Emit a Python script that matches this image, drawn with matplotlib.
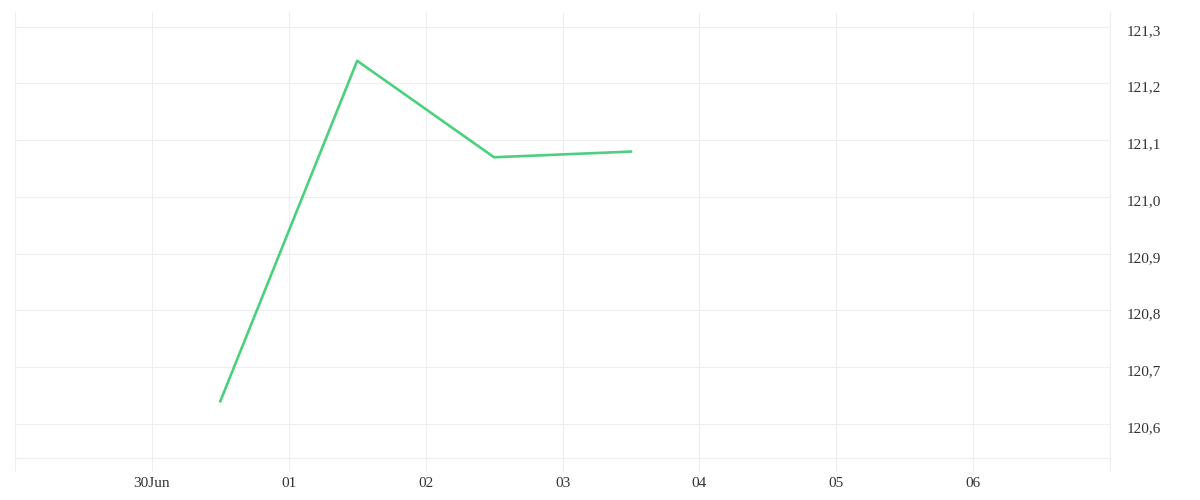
import pandas as pd
import matplotlib
matplotlib.use('Agg')
import matplotlib.pyplot as plt
import matplotlib.transforms as mtransforms

# Data (half-day points)
dates = pd.to_datetime(['2024-06-30 12:00', '2024-07-01 12:00', '2024-07-02 12:00', '2024-07-03 12:00'])
values = [120.64, 121.24, 121.07, 121.08]

tick_dates = pd.date_range('2024-06-29', '2024-07-07', freq='D')
tick_labels = ['', '30Jun', '01', '02', '03', '04', '05', '06', '']
y_ticks = [120.6, 120.7, 120.8, 120.9, 121.0, 121.1, 121.2, 121.3]

grid_col = '#eeeeee'
text_col = '#333333'

plt.rcParams['font.family'] = ['Liberation Serif', 'DejaVu Serif']

fig = plt.figure(figsize=(12, 5), dpi=100)
ax = fig.add_axes([15 / 1200, 1 - 458 / 500, 1095 / 1200, 446 / 500])

ax.plot(dates, values, color='#4cd07d', linewidth=1.9)

ax.set_xlim(tick_dates[0], tick_dates[-1])
ax.set_ylim(120.54, 121.326)

ax.set_xticks(tick_dates)
ax.set_xticklabels(tick_labels)
ax.set_yticks(y_ticks)
ax.set_yticklabels([f'{v:.1f}'.replace('.', ',') for v in y_ticks])

ax.yaxis.tick_right()
ax.tick_params(axis='y', length=0, pad=12, labelsize=11, labelcolor=text_col)
ax.tick_params(axis='x', length=9, width=0.8, color=grid_col, pad=5, labelsize=11, labelcolor=text_col)

# nudge y labels slightly below their gridlines
shift = mtransforms.ScaledTranslation(0, -3 / 100, fig.dpi_scale_trans)
for lbl in ax.get_yticklabels():
    lbl.set_transform(lbl.get_transform() + shift)

ax.grid(True, color=grid_col, linewidth=0.8)
ax.set_axisbelow(True)

ax.spines['top'].set_visible(False)
for side in ['left', 'right', 'bottom']:
    ax.spines[side].set_color(grid_col)
    ax.spines[side].set_linewidth(0.8)

fig.savefig('out.png', dpi=100, facecolor='white')
